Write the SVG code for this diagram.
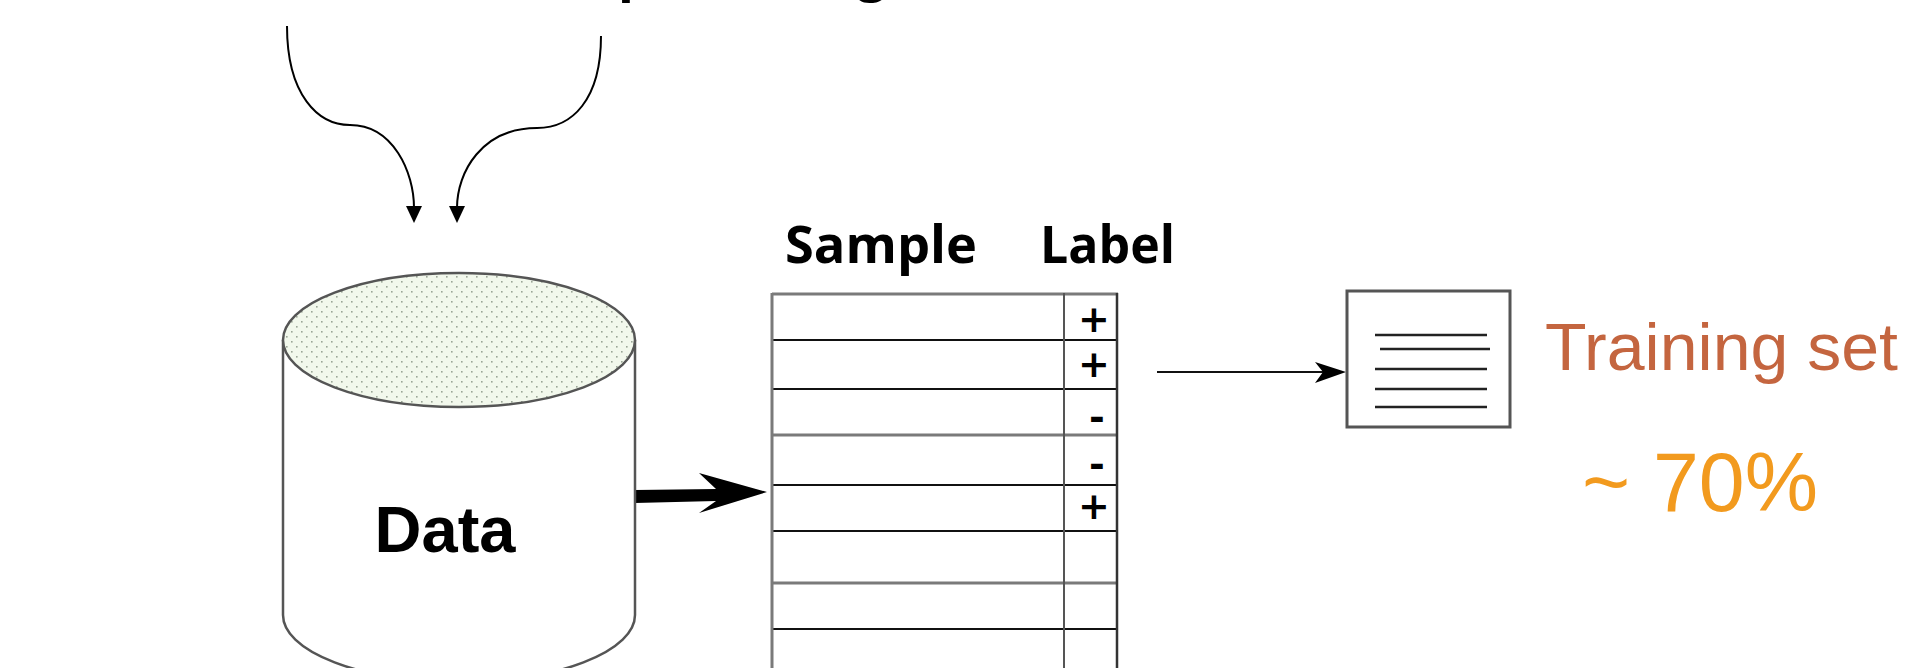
<svg xmlns="http://www.w3.org/2000/svg" width="1926" height="668" viewBox="0 0 1926 668">
  <defs>
    <pattern id="dots" x="0" y="0" width="10" height="10" patternUnits="userSpaceOnUse">
      <rect width="10" height="10" fill="#f2f8ec"/>
      <rect x="1" y="1" width="1.6" height="1.6" fill="#9ba597"/>
      <rect x="6" y="6" width="1.6" height="1.6" fill="#9ba597"/>
    </pattern>
    <style>
      .curve { fill: none; stroke: #000; stroke-width: 2; }
      .head { fill: #000; }
      .grid-black { stroke: #111; stroke-width: 2; }
      .grid-gray { stroke: #7a7a7a; stroke-width: 3; }
      .hdr { font-family: "Open Sans", "Liberation Sans", sans-serif; font-weight: bold; font-size: 52px; fill: #000; }
      .sign { font-family: "DejaVu Sans", "Liberation Sans", sans-serif; font-weight: bold; font-size: 38px; fill: #000; text-anchor: middle; }
      .docline { stroke: #222; stroke-width: 2.5; }
    </style>
  </defs>
  <rect width="1926" height="668" fill="#fff"/>

  <!-- partially visible heading (cut off at top) -->
  <g id="heading-fragment">
    <text x="618" y="-10" font-family="Open Sans, sans-serif" font-weight="bold" font-size="52">p</text>
    <text x="857" y="-10" font-family="Open Sans, sans-serif" font-weight="bold" font-size="52">g</text>
  </g>

  <g id="connectors">
    <path class="curve" d="M287,26 C287,95 318,125 350,125 C393,125 414,172 414,208"/>
    <polygon class="head" points="406,206 422,206 414,223"/>
    <path class="curve" d="M601,36 C601,100 572,128 537,128 C482,128 457,172 457,208"/>
    <polygon class="head" points="449,206 465,206 457,223"/>
    <!-- thick arrow data -> table -->
    <path fill="#000" d="M635,490 L716,489 L699,473 L767,492 L699,513 L716,501 L635,503 Z"/>
    <!-- thin arrow table -> document -->
    <line x1="1157" y1="372" x2="1330" y2="372" stroke="#111" stroke-width="1.8"/>
    <path fill="#000" d="M1346,372 L1315,362 L1323,372 L1315,383 Z"/>
  </g>

  <g id="data-cylinder">
    <path d="M283,340 L283,615 A176,67 0 0 0 635,615 L635,340" fill="#fff" stroke="#555" stroke-width="2.5"/>
    <ellipse cx="459" cy="340" rx="176" ry="67" fill="url(#dots)" stroke="#555" stroke-width="2.5"/>
    <text x="445" y="552" text-anchor="middle" font-family="Liberation Sans, Arial, sans-serif" font-weight="bold" font-size="65" fill="#000">Data</text>
  </g>

  <g id="sample-table">
    <text class="hdr" x="785" y="263" textLength="192" lengthAdjust="spacingAndGlyphs">Sample</text>
    <text class="hdr" x="1040" y="263" textLength="135" lengthAdjust="spacingAndGlyphs">Label</text>
    <line class="grid-gray" x1="772" y1="294" x2="1118" y2="294"/>
    <line class="grid-black" x1="772" y1="340" x2="1117" y2="340"/>
    <line class="grid-black" x1="772" y1="389" x2="1117" y2="389"/>
    <line class="grid-gray" x1="772" y1="435" x2="1117" y2="435"/>
    <line class="grid-black" x1="772" y1="485" x2="1117" y2="485"/>
    <line class="grid-black" x1="772" y1="531" x2="1117" y2="531"/>
    <line class="grid-gray" x1="772" y1="583" x2="1117" y2="583"/>
    <line class="grid-black" x1="772" y1="629" x2="1117" y2="629"/>
    <line x1="772" y1="293" x2="772" y2="668" stroke="#7a7a7a" stroke-width="3"/>
    <line x1="1064" y1="293" x2="1064" y2="668" stroke="#555" stroke-width="2"/>
    <line x1="1117" y1="293" x2="1117" y2="668" stroke="#333" stroke-width="2.5"/>
    <text class="sign" x="1094" y="332">+</text>
    <text class="sign" x="1094" y="377">+</text>
    <text class="sign" x="1097" y="430">-</text>
    <text class="sign" x="1097" y="477">-</text>
    <text class="sign" x="1094" y="519">+</text>
  </g>

  <g id="training-doc">
    <rect x="1347" y="291" width="163" height="136" fill="#fff" stroke="#555" stroke-width="3"/>
    <line class="docline" x1="1375" y1="335" x2="1487" y2="335"/>
    <line class="docline" x1="1380" y1="349" x2="1490" y2="349"/>
    <line class="docline" x1="1375" y1="369" x2="1487" y2="369"/>
    <line class="docline" x1="1375" y1="389" x2="1487" y2="389" stroke="#444"/>
    <line class="docline" x1="1375" y1="407" x2="1487" y2="407" stroke="#555"/>
  </g>

  <g id="training-label">
    <text x="1545" y="370" font-family="Liberation Sans, Arial, sans-serif" font-size="67" fill="#c4653f" textLength="353" lengthAdjust="spacingAndGlyphs">Training set</text>
    <text x="1582" y="511" font-family="Liberation Sans, Arial, sans-serif" font-size="83" fill="#f29a1e" textLength="236" lengthAdjust="spacingAndGlyphs">~ 70%</text>
  </g>
</svg>
